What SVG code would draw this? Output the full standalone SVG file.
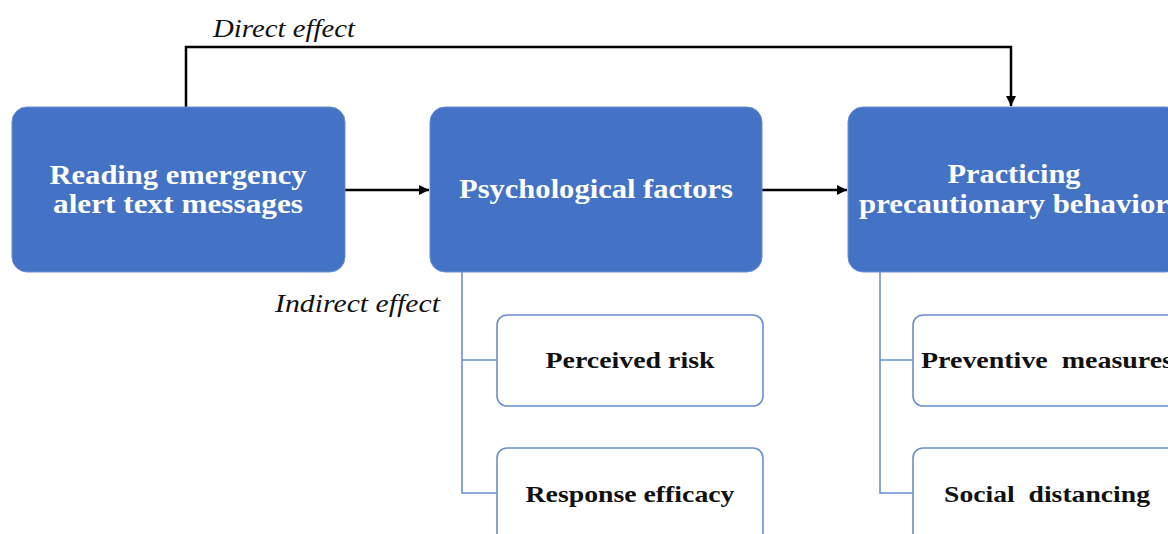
<svg xmlns="http://www.w3.org/2000/svg" width="1168" height="534" viewBox="0 0 1168 534">
  <style>
    .main { fill: #4472C4; stroke: #6A8FD2; stroke-width: 1; }
    .sub { fill: #FFFFFF; stroke: #6A8FD2; stroke-width: 1.6; }
    .mtxt { font-family: "Liberation Serif", "DejaVu Serif", serif; font-weight: bold; font-size: 27px; fill: #FFFFFF; text-anchor: middle; }
    .stxt { font-family: "Liberation Serif", "DejaVu Serif", serif; font-weight: bold; font-size: 24px; fill: #111111; text-anchor: middle; }
    .lbl { font-family: "Liberation Serif", "DejaVu Serif", serif; font-style: italic; font-size: 26px; fill: #111111; }
    .arrow { fill: none; stroke: #000000; stroke-width: 2.5; }
    .branch { fill: none; stroke: #6A8FD2; stroke-width: 1.6; }
  </style>
  <defs>
    <marker id="head" viewBox="0 0 10 10" refX="10" refY="5" markerWidth="4" markerHeight="4" markerUnits="strokeWidth" orient="auto">
      <path d="M0,0 L10,5 L0,10 z" fill="#000000"/>
    </marker>
  </defs>
  <rect width="1168" height="534" fill="#FFFFFF"/>

  <g id="connectors">
    <path class="arrow" d="M345,190 H429" marker-end="url(#head)"/>
    <path class="arrow" d="M762,190 H847" marker-end="url(#head)"/>
    <path class="arrow" d="M186,107 V47 H1011 V106" marker-end="url(#head)"/>
    <path class="branch" d="M462,272 V493 H497 M462,360 H497"/>
    <path class="branch" d="M880,272 V493 H913 M880,360 H913"/>
    <text class="lbl" x="213" y="37" textLength="142" lengthAdjust="spacingAndGlyphs">Direct effect</text>
    <text class="lbl" x="275" y="312" textLength="165" lengthAdjust="spacingAndGlyphs">Indirect effect</text>
  </g>

  <g id="reading">
    <rect class="main" x="12" y="107" width="333" height="165" rx="15"/>
    <text class="mtxt" x="178" y="184" textLength="257" lengthAdjust="spacingAndGlyphs">Reading emergency</text>
    <text class="mtxt" x="178" y="213" textLength="250" lengthAdjust="spacingAndGlyphs">alert text messages</text>
  </g>

  <g id="psychological">
    <rect class="main" x="430" y="107" width="332" height="165" rx="15"/>
    <text class="mtxt" x="596" y="198" textLength="274" lengthAdjust="spacingAndGlyphs">Psychological factors</text>
  </g>

  <g id="practicing">
    <rect class="main" x="848" y="107" width="333" height="165" rx="15"/>
    <text class="mtxt" x="1014" y="183" textLength="133" lengthAdjust="spacingAndGlyphs">Practicing</text>
    <text class="mtxt" x="1014" y="213" textLength="310" lengthAdjust="spacingAndGlyphs">precautionary behavior</text>
  </g>

  <g id="perceived-risk">
    <rect class="sub" x="497" y="315" width="266" height="91" rx="10"/>
    <text class="stxt" x="630" y="368" textLength="169" lengthAdjust="spacingAndGlyphs">Perceived risk</text>
  </g>

  <g id="response-efficacy">
    <rect class="sub" x="497" y="448" width="266" height="100" rx="10"/>
    <text class="stxt" x="630" y="502" textLength="209" lengthAdjust="spacingAndGlyphs">Response efficacy</text>
  </g>

  <g id="preventive-measures">
    <rect class="sub" x="913" y="315" width="266" height="91" rx="10"/>
    <text class="stxt" x="921" y="368" style="text-anchor:start; white-space:pre" xml:space="preserve" textLength="252" lengthAdjust="spacingAndGlyphs">Preventive  measures</text>
  </g>

  <g id="social-distancing">
    <rect class="sub" x="913" y="448" width="266" height="100" rx="10"/>
    <text class="stxt" x="1047" y="502" style="white-space:pre" xml:space="preserve" textLength="206" lengthAdjust="spacingAndGlyphs">Social  distancing</text>
  </g>
</svg>
